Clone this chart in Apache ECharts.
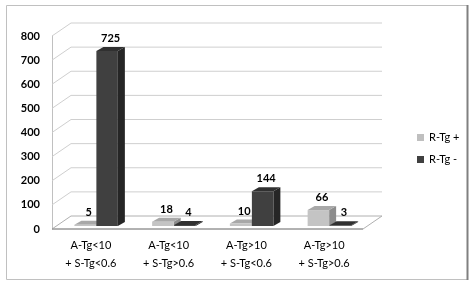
<!DOCTYPE html>
<html><head><meta charset="utf-8">
<script src="https://cdn.jsdelivr.net/npm/echarts@6/dist/echarts.min.js"></script>
<style>html,body{margin:0;padding:0;background:#fff}#c{width:473px;height:285px}</style>
</head><body><div id="c"></div>
<script>
const categories = ['A-Tg<10\n+ S-Tg<0.6', 'A-Tg<10\n+ S-Tg>0.6', 'A-Tg>10\n+ S-Tg<0.6', 'A-Tg>10\n+ S-Tg>0.6'];
const seriesNames = ['R-Tg +', 'R-Tg -'];
const rTgPos = [5, 18, 10, 66];
const rTgNeg = [725, 4, 144, 3];
const yTicks = [0, 100, 200, 300, 400, 500, 600, 700, 800];

const FONT = 'Lato';
const WDX = 19, WDY = 13;   // wall depth
const BDX = 7, BDY = 4;     // bar depth
const BW = 21.5;

function barRender(offset, front, top, side) {
  return function (params, api) {
    const i = api.value(0), v = api.value(1);
    const p = api.coord([i, v]), b = api.coord([i, 0]);
    const x0 = b[0] + offset, yb = b[1] - 3, yt = p[1] - 3;
    return {
      type: 'group', children: [
        { type: 'polygon', shape: { points: [[x0 + BW, yt], [x0 + BW + BDX, yt - BDY], [x0 + BW + BDX, yb - BDY], [x0 + BW, yb]] }, style: { fill: side } },
        { type: 'polygon', shape: { points: [[x0, yt], [x0 + BW, yt], [x0 + BW + BDX, yt - BDY], [x0 + BDX, yt - BDY]] }, style: { fill: top } },
        { type: 'rect', shape: { x: x0, y: yt, width: BW, height: yb - yt }, style: { fill: front } },
        { type: 'text', style: { text: String(v), x: x0 + (BW + BDX) / 2, y: yt - BDY - 3, align: 'center', verticalAlign: 'bottom', font: 'bold 11px ' + FONT, fill: '#000' } }
      ]
    };
  };
}

function wallRender(params, api) {
  const cs = params.coordSys;
  const v = api.value(1);
  const y = api.coord([0, v])[1];
  if (v === 0) {
    return {
      type: 'group', children: [
        { type: 'polygon', shape: { points: [[cs.x, y], [cs.x + cs.width, y], [cs.x + cs.width + WDX, y - WDY], [cs.x + WDX, y - WDY]] }, style: { fill: '#ffffff', stroke: '#b0b0b0', lineWidth: 1 } },
        { type: 'line', shape: { x1: cs.x, y1: y, x2: cs.x + cs.width, y2: y }, style: { stroke: '#8c8c8c', lineWidth: 1 } }
      ]
    };
  }
  return { type: 'polyline', shape: { points: [[cs.x, y], [cs.x + WDX, y - WDY], [cs.x + cs.width + WDX, y - WDY]] }, style: { stroke: '#cfcfcf', lineWidth: 1, fill: null } };
}

const chart = echarts.init(document.getElementById('c'), null, { renderer: 'canvas' });
chart.setOption({
  animation: false,
  backgroundColor: '#fff',
  textStyle: { fontFamily: FONT },
  graphic: [
    { type: 'rect', shape: { x: 6.5, y: 5.5, width: 461, height: 274 }, style: { fill: null, stroke: '#c0c0c0', lineWidth: 1 }, z: 100 },
    { type: 'line', shape: { x1: 467.5, y1: 5, x2: 467.5, y2: 280 }, style: { stroke: '#808080', lineWidth: 2 }, z: 101 }
  ],
  grid: { left: 52, right: 110, top: 36, bottom: 56 },
  legend: {
    orient: 'vertical', left: 412, top: 126, itemWidth: 7, itemHeight: 7, itemGap: 9,
    icon: 'rect', data: seriesNames,
    textStyle: { fontSize: 11, color: '#000', fontFamily: FONT, lineHeight: 13 }
  },
  xAxis: {
    type: 'category', data: categories,
    axisLine: { show: false }, axisTick: { show: false },
    axisLabel: { fontSize: 11, color: '#000', lineHeight: 18, margin: 7, interval: 0, fontFamily: FONT }
  },
  yAxis: {
    type: 'value', min: 0, max: 800, interval: 100,
    splitLine: { show: false }, axisTick: { show: false },
    axisLine: { show: true, lineStyle: { color: '#c0c0c0' } },
    axisLabel: { fontSize: 11, fontWeight: 'bold', color: '#000', margin: 12, fontFamily: FONT }
  },
  series: [
    { type: 'custom', name: 'walls', silent: true, z: 1, renderItem: wallRender, encode: { x: 0, y: 1 }, data: yTicks.map(v => [0, v]) },
    { type: 'custom', name: seriesNames[0], z: 2, itemStyle: { color: '#bfbfbf' }, renderItem: barRender(-16.5, '#c4c4c4', '#a8a8a8', '#8c8c8c'), encode: { x: 0, y: 1 }, data: rTgPos.map((v, i) => [i, v]) },
    { type: 'custom', name: seriesNames[1], z: 3, itemStyle: { color: '#404040' }, renderItem: barRender(5.5, '#404040', '#303030', '#262626'), encode: { x: 0, y: 1 }, data: rTgNeg.map((v, i) => [i, v]) }
  ]
});
</script></body></html>
